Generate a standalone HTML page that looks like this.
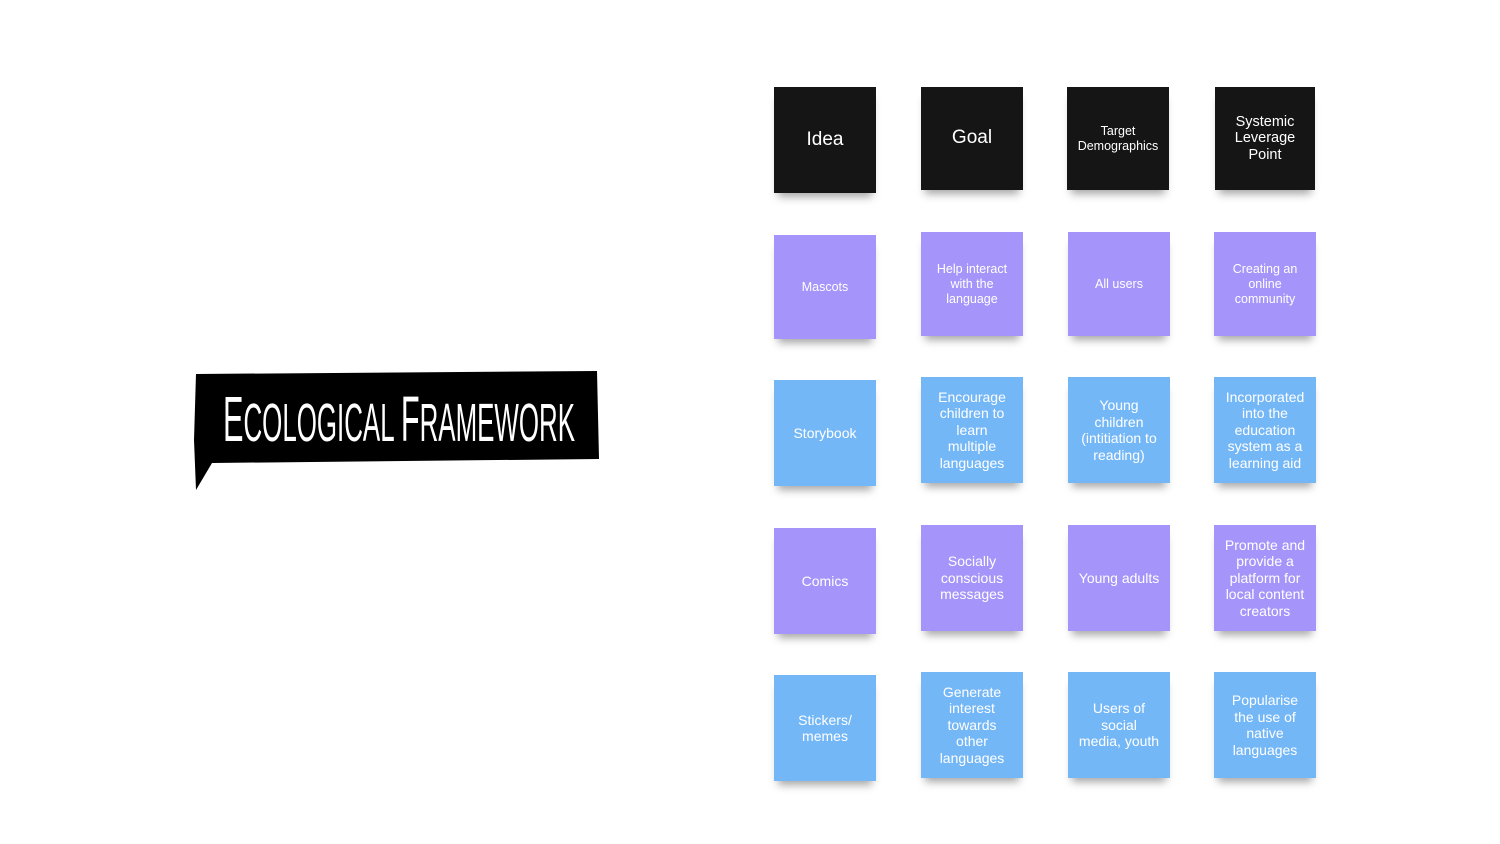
<!DOCTYPE html>
<html><head><style>
body{margin:0;width:1500px;height:844px;background:#fff;position:relative;overflow:hidden;font-family:"Liberation Sans",sans-serif}
.c{position:absolute;width:102px;display:flex;align-items:center;justify-content:center;text-align:center;color:#fff;font-size:14px;line-height:16.5px;box-shadow:0 8px 8px -4px rgba(0,0,0,.35)}
.k{background:#151515}
.p{background:#a594f9;font-size:12.5px;line-height:15px}
.p.l{font-size:14px;line-height:16.5px}
.b{background:#74b7f7}
</style></head><body>
<svg width="1500" height="844" style="position:absolute;left:0;top:0">
<polygon points="196,374 597,371 599,459 212,463 196,490 194,440" fill="#000"/>
<text x="223" y="441" textLength="352" lengthAdjust="spacingAndGlyphs" fill="#fff" font-family="Liberation Sans Narrow, Liberation Sans, sans-serif"><tspan font-size="64">E</tspan><tspan font-size="54">COLOGICAL </tspan><tspan font-size="64">F</tspan><tspan font-size="54">RAMEWORK</tspan></text>
</svg>

<div class="c k" style="left:774px;top:87px;height:106px;font-size:19px">Idea</div>
<div class="c k" style="left:921px;top:87px;height:103px;font-size:19px">Goal</div>
<div class="c k" style="left:1067px;top:87px;height:103px;font-size:12.5px;line-height:15px">Target<br>Demographics</div>
<div class="c k" style="left:1215px;top:87px;height:103px;width:100px;font-size:14.5px">Systemic<br>Leverage<br>Point</div>

<div class="c p" style="left:774px;top:235px;height:104px">Mascots</div>
<div class="c p" style="left:921px;top:232px;height:104px">Help interact<br>with the<br>language</div>
<div class="c p" style="left:1068px;top:232px;height:104px">All users</div>
<div class="c p" style="left:1214px;top:232px;height:104px">Creating an<br>online<br>community</div>

<div class="c b" style="left:774px;top:380px;height:106px">Storybook</div>
<div class="c b" style="left:921px;top:377px;height:106px">Encourage<br>children to<br>learn<br>multiple<br>languages</div>
<div class="c b" style="left:1068px;top:377px;height:106px">Young<br>children<br>(intitiation to<br>reading)</div>
<div class="c b" style="left:1214px;top:377px;height:106px">Incorporated<br>into the<br>education<br>system as a<br>learning aid</div>

<div class="c p l" style="left:774px;top:528px;height:106px">Comics</div>
<div class="c p l" style="left:921px;top:525px;height:106px">Socially<br>conscious<br>messages</div>
<div class="c p l" style="left:1068px;top:525px;height:106px">Young adults</div>
<div class="c p l" style="left:1214px;top:525px;height:106px">Promote and<br>provide a<br>platform for<br>local content<br>creators</div>

<div class="c b" style="left:774px;top:675px;height:106px">Stickers/<br>memes</div>
<div class="c b" style="left:921px;top:672px;height:106px">Generate<br>interest<br>towards<br>other<br>languages</div>
<div class="c b" style="left:1068px;top:672px;height:106px">Users of<br>social<br>media, youth</div>
<div class="c b" style="left:1214px;top:672px;height:106px">Popularise<br>the use of<br>native<br>languages</div>
</body></html>
